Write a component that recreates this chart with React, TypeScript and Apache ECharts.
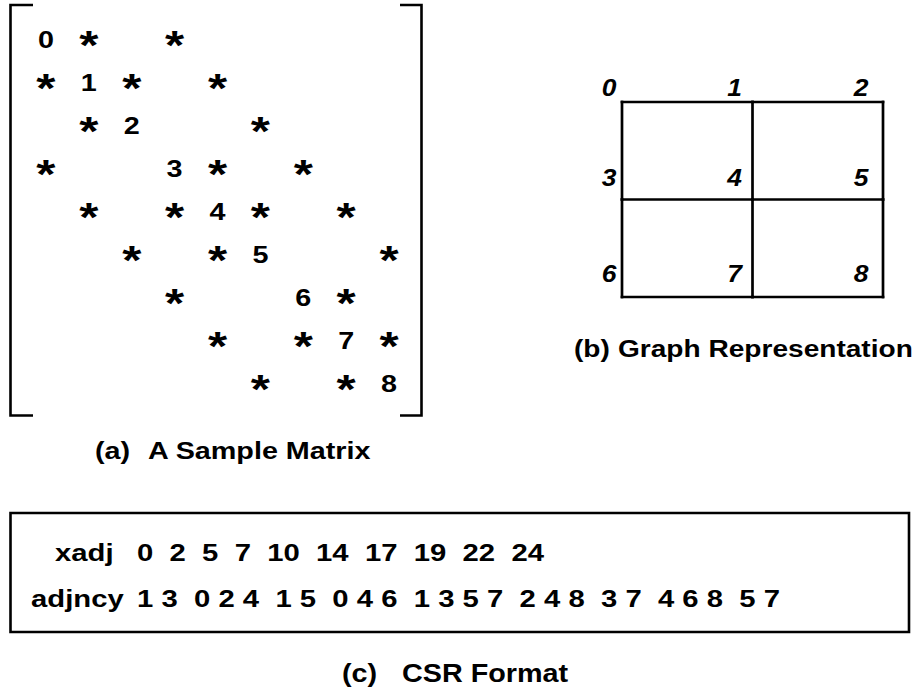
import React, { useEffect, useRef } from 'react';
import * as echarts from 'echarts';

// ---- data ----
const xadj = [0, 2, 5, 7, 10, 14, 17, 19, 22, 24];
const adjncy = [1, 3, 0, 2, 4, 1, 5, 0, 4, 6, 1, 3, 5, 7, 2, 4, 8, 3, 7, 4, 6, 8, 5, 7];
const meshCols = 3;
const offDiagMark = '*';
const csrRowNames = ['xadj', 'adjncy'];
const captionTags = ['(a)', '(b)', '(c)'];
const captionTitles = ['A Sample Matrix', 'Graph Representation', 'CSR Format'];

const FONT = '"Liberation Sans", Arial, Helvetica, sans-serif';
const nNodes = xadj.length - 1;

// matrix cells [col, row, text]
const matrixCells: [number, number, string][] = [];
for (let i = 0; i < nNodes; i++) {
  matrixCells.push([i, i, String(i)]);
  for (let k = xadj[i]; k < xadj[i + 1]; k++) matrixCells.push([adjncy[k], i, offDiagMark]);
}

// graph nodes and edges
const graphNodes: [number, number, number][] = [];
for (let i = 0; i < nNodes; i++) graphNodes.push([i % meshCols, Math.floor(i / meshCols), i]);
const graphEdges: [number, number, number, number][] = [];
for (let i = 0; i < nNodes; i++) {
  for (let k = xadj[i]; k < xadj[i + 1]; k++) {
    const j = adjncy[k];
    if (j > i) graphEdges.push([i % meshCols, Math.floor(i / meshCols), j % meshCols, Math.floor(j / meshCols)]);
  }
}

// ---- styles ----
const labelDx = [-13, -18, -22];
const labelDy = [-15, -22, -24];

export default function App() {
  const ref = useRef<HTMLDivElement>(null);
  useEffect(() => {
    if (!ref.current) return;
    const chart = echarts.init(ref.current, undefined, { renderer: 'svg' });

    const graphic: any[] = [];
    // matrix brackets
    graphic.push({
      type: 'polyline',
      shape: { points: [[33, 5], [10.5, 5], [10.5, 415.5], [33, 415.5]] },
      style: { stroke: '#000', lineWidth: 2.6, fill: null },
      silent: true,
    });
    graphic.push({
      type: 'polyline',
      shape: { points: [[400, 5], [421.5, 5], [421.5, 415.5], [400, 415.5]] },
      style: { stroke: '#000', lineWidth: 2.6, fill: null },
      silent: true,
    });
    // CSR box
    graphic.push({
      type: 'rect',
      shape: { x: 10.5, y: 513, width: 898.5, height: 119 },
      style: { stroke: '#000', lineWidth: 2.6, fill: null },
      silent: true,
    });

    const csrFont = 24;
    const csrScale = 1.22;
    const digitW = 0.556 * csrFont * csrScale;
    const spaceW = 0.278 * csrFont * csrScale;
    const rowY = [553, 598.5];
    const rowNameX = [55, 31];
    const numX0 = 137;
    const txt = (text: string, x: number, y: number, size: number, scale: number, align = 'left', italic = false) => ({
      type: 'text',
      x,
      y,
      scaleX: scale,
      silent: true,
      style: {
        text,
        fill: '#000',
        font: `${italic ? 'italic ' : ''}bold ${size}px ${FONT}`,
        align,
        verticalAlign: 'middle',
      },
    });
    // row names
    csrRowNames.forEach((name, r) => graphic.push(txt(name, rowNameX[r], rowY[r], csrFont, csrScale)));
    // xadj numbers
    {
      let x = numX0;
      xadj.forEach((v) => {
        const s = String(v);
        graphic.push(txt(s, x, rowY[0], csrFont, csrScale));
        x += s.length * digitW + 2 * spaceW;
      });
    }
    // adjncy numbers, grouped by row
    {
      let x = numX0;
      for (let i = 0; i < nNodes; i++) {
        for (let k = xadj[i]; k < xadj[i + 1]; k++) {
          const s = String(adjncy[k]);
          graphic.push(txt(s, x, rowY[1], csrFont, csrScale));
          x += s.length * digitW + spaceW;
        }
        x += spaceW;
      }
    }
    // captions
    const capTagX = [95, 574, 342];
    const capTitleX = [148, 618, 402];
    const capY = [451, 349, 674];
    const capSize = [23, 24, 25];
    const capScale = [1.25, 1.17, 1.15];
    captionTags.forEach((t, i) => {
      graphic.push(txt(t, capTagX[i], capY[i], capSize[i], capScale[i]));
      graphic.push(txt(captionTitles[i], capTitleX[i], capY[i], capSize[i], capScale[i]));
    });

    const option: any = {
      animation: false,
      backgroundColor: '#fff',
      grid: [
        { left: 24.5, top: 18, width: 386, height: 387 },
        { left: 622, top: 102, width: 261, height: 195 },
      ],
      xAxis: [
        { type: 'value', gridIndex: 0, min: -0.5, max: 8.5, show: false },
        { type: 'value', gridIndex: 1, min: 0, max: 2, show: false },
      ],
      yAxis: [
        { type: 'value', gridIndex: 0, min: -0.5, max: 8.5, inverse: true, show: false },
        { type: 'value', gridIndex: 1, min: 0, max: 2, inverse: true, show: false },
      ],
      series: [
        {
          type: 'custom',
          name: 'matrix',
          coordinateSystem: 'cartesian2d',
          xAxisIndex: 0,
          yAxisIndex: 0,
          silent: true,
          clip: false,
          data: matrixCells.map((c) => [c[0], c[1]]),
          renderItem: (params: any, api: any) => {
            const p = api.coord([api.value(0), api.value(1)]);
            const t = matrixCells[params.dataIndex][2];
            const star = t === offDiagMark;
            const size = star ? 41 : 23;
            return {
              type: 'text',
              x: p[0],
              y: p[1] + (star ? 5.5 : 0.5),
              scaleX: star ? 1.2 : 1.25,
              style: {
                text: t,
                fill: '#000',
                font: `bold ${size}px ${FONT}`,
                align: 'center',
                verticalAlign: 'middle',
              },
            };
          },
        },
        {
          type: 'custom',
          name: 'edges',
          coordinateSystem: 'cartesian2d',
          xAxisIndex: 1,
          yAxisIndex: 1,
          silent: true,
          clip: false,
          data: graphEdges,
          renderItem: (params: any, api: any) => {
            const a = api.coord([api.value(0), api.value(1)]);
            const b = api.coord([api.value(2), api.value(3)]);
            return {
              type: 'line',
              shape: { x1: a[0], y1: a[1], x2: b[0], y2: b[1] },
              style: { stroke: '#000', lineWidth: 2.7, lineCap: 'square' },
            };
          },
        },
        {
          type: 'custom',
          name: 'nodes',
          coordinateSystem: 'cartesian2d',
          xAxisIndex: 1,
          yAxisIndex: 1,
          silent: true,
          clip: false,
          data: graphNodes,
          renderItem: (params: any, api: any) => {
            const col = api.value(0);
            const row = api.value(1);
            const p = api.coord([col, row]);
            return {
              type: 'text',
              x: p[0] + labelDx[col],
              y: p[1] + labelDy[row],
              scaleX: 1.1,
              style: {
                text: String(api.value(2)),
                fill: '#000',
                font: `italic bold 24px ${FONT}`,
                align: 'center',
                verticalAlign: 'middle',
              },
            };
          },
        },
      ],
      graphic,
    };
    chart.setOption(option);
    return () => chart.dispose();
  }, []);
  return (
    <div
      ref={ref}
      style={{ position: 'fixed', left: 0, top: 0, width: 919, height: 692, background: '#fff' }}
    />
  );
}
